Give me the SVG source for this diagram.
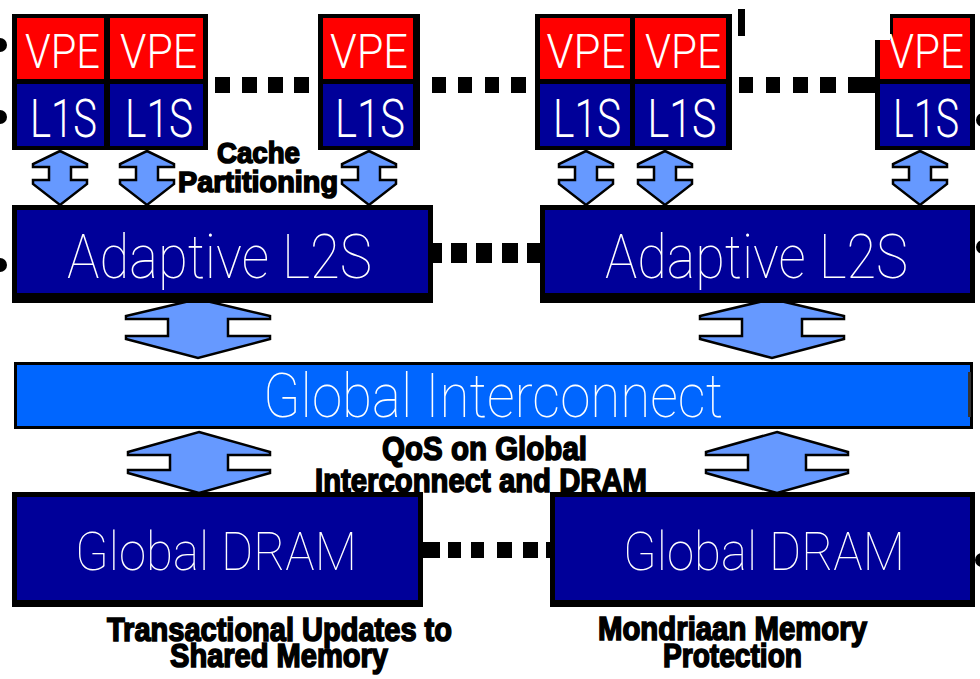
<svg xmlns="http://www.w3.org/2000/svg" width="980" height="679" viewBox="0 0 980 679">
  <style>
    .frame { fill: #000; }
    .vpe { fill: #ff0000; }
    .cache { fill: #000099; }
    .net { fill: #0066ff; }
    .cell-text { font-family: Roboto, "Liberation Sans", Arial, sans-serif; font-weight: 300; fill: #fff; text-anchor: middle; }
    .box-text { font-family: Roboto, "Liberation Sans", Arial, sans-serif; font-weight: 100; fill: #fff; text-anchor: middle; }
    .note { font-family: "Liberation Sans", Arial, sans-serif; font-weight: bold; fill: #000; stroke: #000; stroke-width: 1.6; text-anchor: middle; }
    .arrow { fill: #6699ff; stroke: #000; stroke-width: 2.5; stroke-linejoin: miter; }
    .dot { fill: #000; }
  </style>
  <defs>
    <path id="arrow-small" d="M0,0 L27,13 L27,16 L11,16 L11,29 L27,29 L27,33 L0,54 L-27,33 L-27,29 L-11,29 L-11,16 L-27,16 L-27,13 Z"/>
    <path id="arrow-l2" d="M0,0 L72,17 L72,20 L30,20 L30,37 L72,37 L72,40 L0,59 L-72,40 L-72,37 L-30,37 L-30,20 L-72,20 L-72,17 Z"/>
    <path id="arrow-mem" d="M0,0 L71,20 L71,23 L29,23 L29,38 L71,38 L71,41 L0,61 L-71,41 L-71,38 L-29,38 L-29,23 L-71,23 L-71,20 Z"/>
  </defs>
  <rect width="980" height="679" fill="#fff"/>

  <!-- page edge bullets -->
  <g id="edge-marks" class="dot">
    <circle cx="0" cy="45" r="7"/>
    <circle cx="0" cy="117" r="7"/>
    <circle cx="0" cy="265" r="7"/>
    <circle cx="983" cy="120" r="7"/>
    <circle cx="983" cy="247" r="7"/>
    <circle cx="982" cy="560" r="7"/>
    <rect x="738" y="9" width="7" height="27"/>
  </g>

  <!-- connectors: dotted links and bidirectional arrows -->
  <g id="connectors">
    <g class="dot">
      <rect x="215" y="77" width="15" height="16"/>
      <rect x="242" y="77" width="15" height="16"/>
      <rect x="268" y="77" width="15" height="16"/>
      <rect x="294" y="77" width="15" height="16"/>
      <rect x="432" y="77" width="14" height="16"/>
      <rect x="458" y="77" width="14" height="16"/>
      <rect x="485" y="77" width="14" height="16"/>
      <rect x="511" y="77" width="15" height="16"/>
      <rect x="739" y="77" width="14" height="16"/>
      <rect x="766" y="77" width="14" height="16"/>
      <rect x="793" y="77" width="15" height="16"/>
      <rect x="820" y="77" width="16" height="16"/>
      <rect x="848" y="77" width="29" height="16"/>
      <rect x="428" y="243" width="14" height="20"/>
      <rect x="451" y="243" width="16" height="20"/>
      <rect x="476" y="243" width="16" height="20"/>
      <rect x="502" y="243" width="16" height="20"/>
      <rect x="527" y="243" width="14" height="20"/>
      <rect x="422" y="542" width="18" height="16"/>
      <rect x="448" y="542" width="13" height="16"/>
      <rect x="471" y="542" width="13" height="16"/>
      <rect x="497" y="542" width="15" height="16"/>
      <rect x="523" y="542" width="15" height="16"/>
      <rect x="546" y="542" width="6" height="16"/>
    </g>
    <use href="#arrow-small" class="arrow" transform="translate(60,151)"/>
    <use href="#arrow-small" class="arrow" transform="translate(147,151)"/>
    <use href="#arrow-small" class="arrow" transform="translate(369,151)"/>
    <use href="#arrow-small" class="arrow" transform="translate(586,151)"/>
    <use href="#arrow-small" class="arrow" transform="translate(665,151)"/>
    <use href="#arrow-small" class="arrow" transform="translate(920,151)"/>
    <use href="#arrow-l2" class="arrow" transform="translate(198,299)"/>
    <use href="#arrow-l2" class="arrow" transform="translate(772,299)"/>
    <use href="#arrow-mem" class="arrow" transform="translate(199,432)"/>
    <use href="#arrow-mem" class="arrow" transform="translate(777,432)"/>
  </g>

  <!-- processor tiles: VPE over L1S -->
  <g id="tile-1">
    <rect class="frame" x="12" y="14" width="196" height="136"/>
    <rect class="vpe" x="17" y="18" width="87" height="61"/>
    <rect class="vpe" x="110" y="18" width="93" height="61"/>
    <rect class="cache" x="17" y="84" width="87" height="62"/>
    <rect class="cache" x="110" y="84" width="93" height="62"/>
    <text class="cell-text" x="62.5" y="68" font-size="48" textLength="75" lengthAdjust="spacingAndGlyphs">VPE</text>
    <text class="cell-text" x="158.5" y="68" font-size="48" textLength="77" lengthAdjust="spacingAndGlyphs">VPE</text>
    <text class="cell-text" x="63.5" y="137" font-size="54" textLength="67" lengthAdjust="spacingAndGlyphs">L1S</text>
    <text class="cell-text" x="159" y="137" font-size="54" textLength="68" lengthAdjust="spacingAndGlyphs">L1S</text>
  </g>
  <g id="tile-2">
    <rect class="frame" x="318" y="14" width="102" height="136"/>
    <rect class="vpe" x="323" y="18" width="90" height="61"/>
    <rect class="cache" x="323" y="84" width="90" height="62"/>
    <text class="cell-text" x="369" y="68" font-size="48" textLength="78" lengthAdjust="spacingAndGlyphs">VPE</text>
    <text class="cell-text" x="370" y="137" font-size="54" textLength="70" lengthAdjust="spacingAndGlyphs">L1S</text>
  </g>
  <g id="tile-3">
    <rect class="frame" x="535" y="14" width="197" height="136"/>
    <rect class="vpe" x="540" y="18" width="90" height="61"/>
    <rect class="vpe" x="635" y="18" width="91" height="61"/>
    <rect class="cache" x="540" y="84" width="90" height="62"/>
    <rect class="cache" x="635" y="84" width="91" height="62"/>
    <text class="cell-text" x="586" y="68" font-size="48" textLength="79" lengthAdjust="spacingAndGlyphs">VPE</text>
    <text class="cell-text" x="683" y="68" font-size="48" textLength="76" lengthAdjust="spacingAndGlyphs">VPE</text>
    <text class="cell-text" x="587" y="137" font-size="54" textLength="68" lengthAdjust="spacingAndGlyphs">L1S</text>
    <text class="cell-text" x="682" y="137" font-size="54" textLength="69" lengthAdjust="spacingAndGlyphs">L1S</text>
  </g>
  <g id="tile-4">
    <polygon class="frame" points="890,14 975,14 975,150 875,150 875,40 890,40"/>
    <polygon class="vpe" points="893,18 970,18 970,79 880,79 880,40 893,40"/>
    <rect class="cache" x="880" y="84" width="90" height="62"/>
    <text class="cell-text" x="926" y="68" font-size="48" textLength="76" lengthAdjust="spacingAndGlyphs">VPE</text>
    <text class="cell-text" x="926" y="137" font-size="54" textLength="66" lengthAdjust="spacingAndGlyphs">L1S</text>
  </g>

  <!-- second-level caches -->
  <g id="l2s-left">
    <rect class="frame" x="12" y="205" width="421" height="98"/>
    <rect class="cache" x="17" y="210" width="411" height="83"/>
    <text class="box-text" x="219.5" y="278" font-size="62" textLength="305" lengthAdjust="spacingAndGlyphs">Adaptive L2S</text>
  </g>
  <g id="l2s-right">
    <rect class="frame" x="540" y="205" width="435" height="98"/>
    <rect class="cache" x="545" y="210" width="425" height="83"/>
    <text class="box-text" x="756.5" y="278" font-size="62" textLength="303" lengthAdjust="spacingAndGlyphs">Adaptive L2S</text>
  </g>

  <!-- interconnect bar -->
  <g id="global-interconnect">
    <rect class="frame" x="14" y="362" width="959" height="67"/>
    <rect class="net" x="17" y="365" width="953" height="61"/>
    <rect x="968" y="372" width="3" height="45" fill="#333"/>
    <text class="box-text" x="493" y="417" font-size="61" textLength="460" lengthAdjust="spacingAndGlyphs">Global Interconnect</text>
  </g>

  <!-- memories -->
  <g id="dram-left">
    <rect class="frame" x="12" y="492" width="411" height="115"/>
    <rect class="cache" x="17" y="497" width="401" height="103"/>
    <text class="box-text" x="216" y="570" font-size="53" textLength="282" lengthAdjust="spacingAndGlyphs">Global DRAM</text>
  </g>
  <g id="dram-right">
    <rect class="frame" x="550" y="492" width="425" height="115"/>
    <rect class="cache" x="555" y="497" width="415" height="103"/>
    <text class="box-text" x="764" y="570" font-size="53" textLength="282" lengthAdjust="spacingAndGlyphs">Global DRAM</text>
  </g>

  <!-- feature annotations -->
  <g id="label-cache-partitioning">
    <text class="note" font-size="30"><tspan x="258.5" y="163" textLength="83" lengthAdjust="spacingAndGlyphs">Cache</tspan><tspan x="258" y="192" textLength="160" lengthAdjust="spacingAndGlyphs">Partitioning</tspan></text>
  </g>
  <g id="label-qos">
    <text class="note" font-size="34"><tspan x="484.5" y="460" textLength="205" lengthAdjust="spacingAndGlyphs">QoS on Global</tspan><tspan x="481" y="492" textLength="332" lengthAdjust="spacingAndGlyphs">Interconnect and DRAM</tspan></text>
  </g>
  <g id="label-transactional">
    <text class="note" font-size="33"><tspan x="279.5" y="641" textLength="345" lengthAdjust="spacingAndGlyphs">Transactional Updates to</tspan><tspan x="279" y="667" textLength="218" lengthAdjust="spacingAndGlyphs">Shared Memory</tspan></text>
  </g>
  <g id="label-mondriaan">
    <text class="note" font-size="33"><tspan x="732.5" y="640" textLength="269" lengthAdjust="spacingAndGlyphs">Mondriaan Memory</tspan><tspan x="732.5" y="667" textLength="139" lengthAdjust="spacingAndGlyphs">Protection</tspan></text>
  </g>
</svg>
